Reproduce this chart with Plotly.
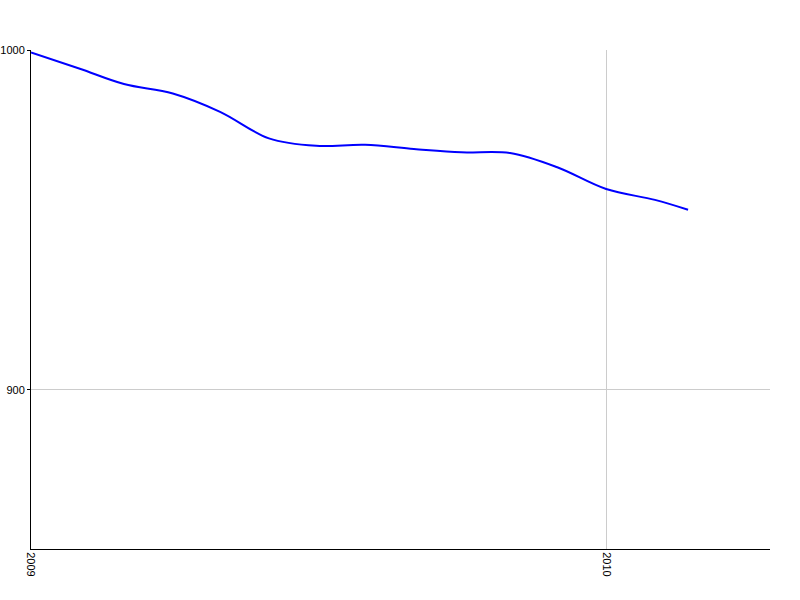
import plotly.graph_objects as go

dates = ["2009-01-01", "2009-02-01", "2009-03-01", "2009-04-01", "2009-05-01",
         "2009-06-01", "2009-07-01", "2009-08-01", "2009-09-01", "2009-10-01",
         "2009-11-01", "2009-12-01", "2010-01-01", "2010-02-01", "2010-02-22"]
values = [999.3, 994.5, 990.0, 987.2, 981.8, 974.0, 971.8, 972.1, 970.9, 969.9,
          969.7, 965.5, 959.1, 955.9, 953.0]
x_ticks = ["2009-01-01", "2010-01-01"]
x_tick_labels = ["2009", "2010"]
y_ticks = [900, 1000]

fig = go.Figure()
fig.add_trace(go.Scatter(
    x=dates, y=values, mode="lines",
    line=dict(color="#0000ff", width=2, shape="spline", smoothing=1.0),
    hoverinfo="skip",
))

fig.update_layout(
    width=800, height=600,
    margin=dict(l=31, r=30, t=50, b=51),
    paper_bgcolor="white", plot_bgcolor="white",
    showlegend=False,
    font=dict(family="Liberation Sans, Arial, sans-serif", size=11, color="black"),
    xaxis=dict(
        type="date",
        range=["2009-01-01", "2010-04-15"],
        tickmode="array", tickvals=x_ticks, ticktext=x_tick_labels,
        tickangle=90,
        showgrid=True, gridcolor="#cccccc", gridwidth=1,
        showline=True, linecolor="black", linewidth=1,
        ticks="", zeroline=False, automargin=False,
    ),
    yaxis=dict(
        range=[853.2, 1000.0],
        tickmode="array", tickvals=y_ticks,
        showgrid=True, gridcolor="#cccccc", gridwidth=1,
        showline=True, linecolor="black", linewidth=1,
        ticks="outside", ticklen=3, tickcolor="black", tickwidth=1,
        zeroline=False, automargin=False,
    ),
)

fig.write_html("out.html", config={"displayModeBar": False},
               post_script="document.body.style.margin='0';")
